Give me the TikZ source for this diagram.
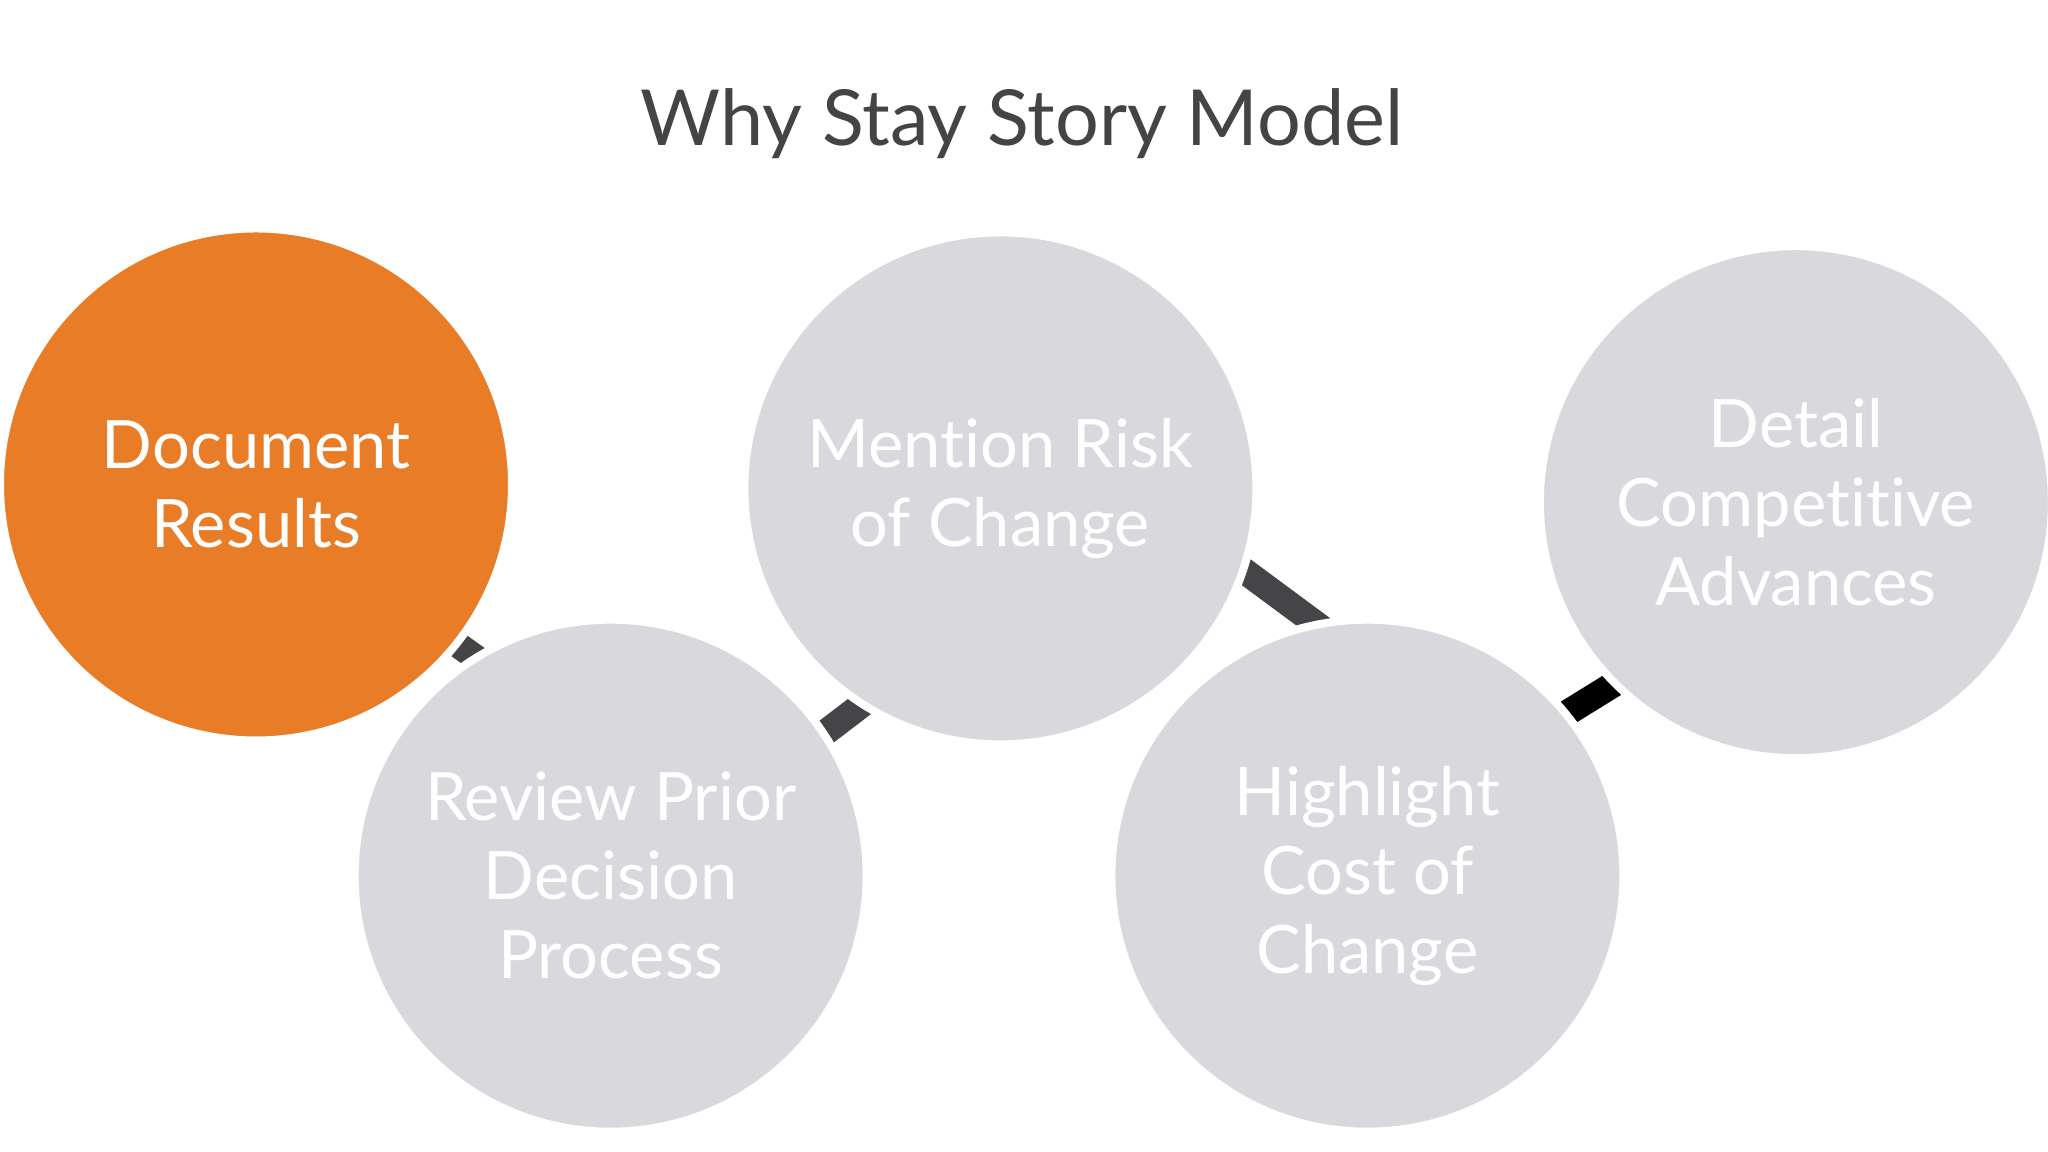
\documentclass[tikz,border=0pt]{standalone}
\usepackage{fontspec}
\setmainfont{Lato}[Ligatures=NoCommon]
\usepackage{tikz}
\usetikzlibrary{positioning}

\definecolor{stayorange}{HTML}{E97C27}
\definecolor{staygray}{HTML}{D9D8DC}
\definecolor{linkgray}{HTML}{454446}
\definecolor{titlegray}{HTML}{444444}

\begin{document}
\begin{tikzpicture}[
  bubble/.style={circle,minimum size=5.12cm,inner sep=0pt,draw=white,line width=0.8mm,fill=staygray,text=white,align=center,font=\fontsize{19}{22.5}\selectfont},
  link/.style={line width=0.26cm,draw=linkgray}
]
\useasboundingbox (0,0) rectangle (20.48,11.52);
\fill[white] (0,0) rectangle (20.48,11.52);

\node[font=\fontsize{22}{26}\selectfont,text=titlegray] (title) at (10.22,10.28) {Why Stay Story Model};

% zigzag behind the circles
\coordinate (p1) at (3.00,6.20);
\coordinate (p2) at (7.07,3.29);
\coordinate (p3) at (11.39,6.59);
\coordinate (p4) at (14.96,3.95);
\coordinate (p5) at (17.50,5.52);
\draw[link] (p1) -- (p2) -- (p3) -- (p4);
\draw[link,draw=black] (p4) -- (p5);

\node[bubble,fill=stayorange] (results) at (2.56,6.675) {Document\\Results};
\node[bubble] (review) at (6.106,2.763) {Review Prior\\Decision\\Process};
\node[bubble] (risk) at (10.004,6.636) {Mention Risk\\of Change};
\node[bubble] (cost) at (13.674,2.763) {Highlight\\Cost of\\Change};
\node[bubble] (detail) at (17.959,6.498) {Detail\\Competitive\\Advances};

\end{tikzpicture}
\end{document}
